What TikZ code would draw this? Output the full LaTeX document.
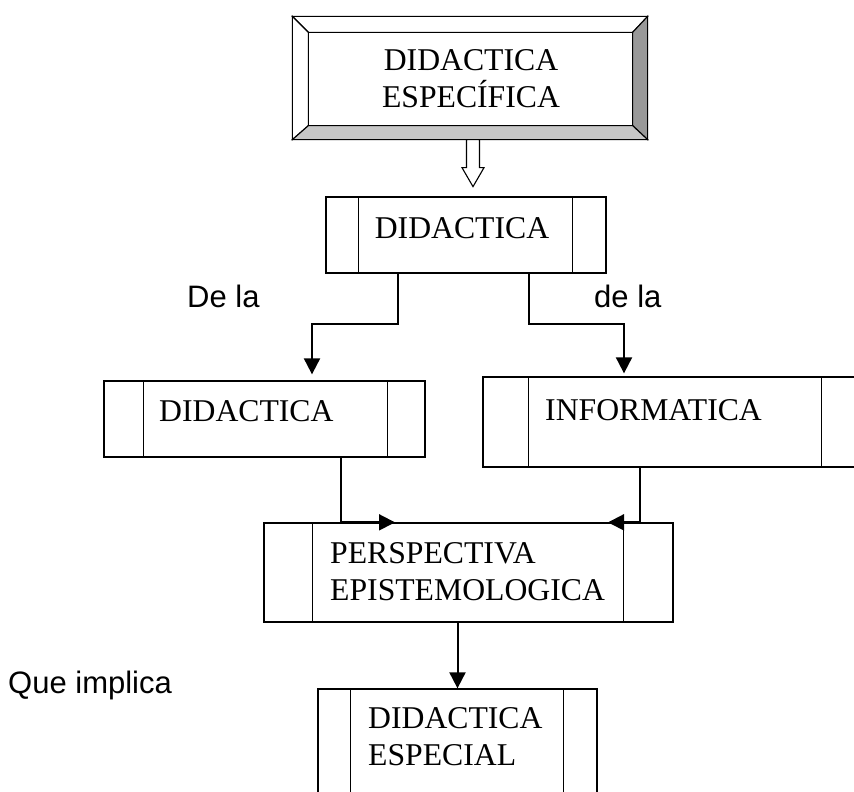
\documentclass[tikz,border=0pt]{standalone}
\usepackage{fontspec}
\setmainfont{Liberation Serif}
\newfontfamily\labelfont{Liberation Sans}
\usetikzlibrary{arrows.meta,calc}
\tikzset{
  boxnode/.style={draw, line width=1.3pt, inner sep=0pt},
  innerline/.style={line width=1.3pt},
  txt/.style={inner sep=0pt, font=\fontsize{31.7}{37}\selectfont, align=left},
  lbl/.style={inner sep=0pt, font=\labelfont\fontsize{31}{36}\selectfont, anchor=base west},
  conn/.style={line width=2pt},
  tip/.style={-{Triangle[length=16pt,width=16pt]}},
}
\begin{document}
\begin{tikzpicture}[x=1pt,y=-1pt]
\clip (0,0) rectangle (854,792);
\fill[white] (0,0) rectangle (854,792);

% top bevelled box
\node[draw, line width=1.3pt, minimum width=354pt, minimum height=122pt, inner sep=0pt] (top) at (470,78) {};
\coordinate (iNW) at ($(top.north west)+(16,16)$);
\coordinate (iNE) at ($(top.north east)+(-15,16)$);
\coordinate (iSW) at ($(top.south west)+(16,-14)$);
\coordinate (iSE) at ($(top.south east)+(-15,-14)$);
\filldraw[fill=white, line width=1.1pt] (top.north west) -- (top.north east) -- (iNE) -- (iNW) -- cycle;
\filldraw[fill=white, line width=1.1pt] (top.north west) -- (iNW) -- (iSW) -- (top.south west) -- cycle;
\filldraw[fill=black!40, line width=1.1pt] (top.north east) -- (iNE) -- (iSE) -- (top.south east) -- cycle;
\filldraw[fill=black!22, line width=1.1pt] (top.south west) -- (iSW) -- (iSE) -- (top.south east) -- cycle;
\draw[line width=1.3pt] (top.north west) rectangle (top.south east);
\draw[line width=1.3pt] (iNW) rectangle (iSE);
\node[txt, align=center, anchor=north] (toptxt) at (471,49) {DIDACTICA\\ESPECÍFICA};

% boxes
\node[boxnode, minimum width=280pt, minimum height=76pt] (b2) at (466,235) {};
\draw[innerline] ([xshift=33pt]b2.north west) -- ([xshift=33pt]b2.south west);
\draw[innerline] ([xshift=-34pt]b2.north east) -- ([xshift=-34pt]b2.south east);
\node[txt, anchor=north] (t2) at (462,217) {DIDACTICA};

\node[boxnode, minimum width=321pt, minimum height=76pt] (b3) at (264.5,419) {};
\draw[innerline] ([xshift=40pt]b3.north west) -- ([xshift=40pt]b3.south west);
\draw[innerline] ([xshift=-38pt]b3.north east) -- ([xshift=-38pt]b3.south east);
\node[txt, anchor=north west] (t3) at (159,400) {DIDACTICA};

\node[boxnode, minimum width=387pt, minimum height=90pt] (b4) at (676.5,422) {};
\draw[innerline] ([xshift=46pt]b4.north west) -- ([xshift=46pt]b4.south west);
\draw[innerline] ([xshift=-49pt]b4.north east) -- ([xshift=-49pt]b4.south east);
\node[txt, anchor=north west] (t4) at (545,399) {INFORMATICA};

\node[boxnode, minimum width=409pt, minimum height=99pt] (b5) at (468.5,572.5) {};
\draw[innerline] ([xshift=49pt]b5.north west) -- ([xshift=49pt]b5.south west);
\draw[innerline] ([xshift=-50pt]b5.north east) -- ([xshift=-50pt]b5.south east);
\node[txt, anchor=north west] (t5) at (330,542) {PERSPECTIVA\\EPISTEMOLOGICA};

\node[boxnode, minimum width=279pt, minimum height=111pt] (b6) at (457.5,744.5) {};
\draw[innerline] ([xshift=33pt]b6.north west) -- ([xshift=33pt]b6.south west);
\draw[innerline] ([xshift=-34pt]b6.north east) -- ([xshift=-34pt]b6.south east);
\node[txt, anchor=north west] (t6) at (368,707) {DIDACTICA\\ESPECIAL};

% hollow arrow from top box to b2
\filldraw[fill=white, line width=1.1pt]
  ($(top.south)+(-3.5,0)$) -- ($(top.south)+(-3.5,28)$) -- ($(top.south)+(-8,28)$)
  -- ($(top.south)+(3,47)$) -- ($(top.south)+(14,28)$) -- ($(top.south)+(9.5,28)$)
  -- ($(top.south)+(9.5,0)$) -- cycle;

% connectors from b2
\coordinate (lx) at (398,324);
\coordinate (la) at (312,0);
\coordinate (rx) at (529,324);
\coordinate (ra) at (624,0);
\draw[conn, tip, shorten >=6pt] (b2.south -| lx) -- (lx) -| (b3.north -| la);
\draw[conn, tip, shorten >=3pt] (b2.south -| rx) -- (rx) -| (b4.north -| ra);

% connectors to b5
\coordinate (dx) at (341,0);
\coordinate (dtip) at (395,0);
\coordinate (ix) at (640,0);
\coordinate (itip) at (608,0);
\draw[conn, tip] (b3.south -| dx) -- (b5.north -| dx) -- (b5.north -| dtip);
\draw[conn, tip] (b4.south -| ix) -- (b5.north -| ix) -- (b5.north -| itip);

% b5 to b6
\draw[conn, tip] (b5.south -| b6.north) -- (b6.north);

% labels
\node[lbl] (l1) at (187,307) {De la};
\node[lbl] (l2) at (594,307) {de la};
\node[lbl] (l3) at (8,693) {Que implica};
\end{tikzpicture}
\end{document}
